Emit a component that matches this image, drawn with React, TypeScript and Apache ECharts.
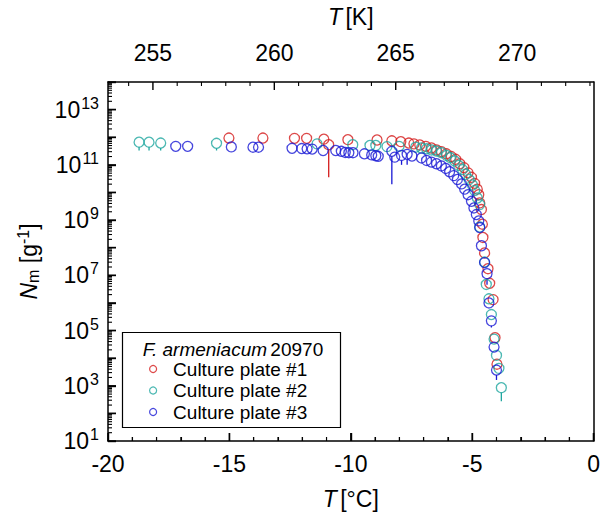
import React, { useEffect, useRef } from "react";
import * as echarts from "echarts";

// ---- data (T in °C, values as log10 of N_m [g^-1]) ----
const plate1T = [-15.02, -13.62, -12.32, -11.82, -11.11, -10.91, -10.12, -8.92, -8.31, -7.94, -7.61, -7.4, -7.16, -6.91, -6.68, -6.47, -6.27, -6.06, -5.86, -5.68, -5.51, -5.34, -5.17, -5.03, -4.9, -4.79, -4.73, -4.69, -4.62, -4.58, -4.56, -4.49, -4.35, -4.28, -4.14, -4.06, -3.98];
const plate1LogN = [11.97, 11.97, 11.96, 11.96, 11.93, 11.73, 11.91, 11.9, 11.87, 11.84, 11.79, 11.76, 11.72, 11.67, 11.61, 11.54, 11.48, 11.4, 11.3, 11.2, 11.04, 10.9, 10.71, 10.55, 10.33, 10.12, 9.92, 9.62, 9.38, 8.85, 8.37, 7.81, 7.24, 6.71, 6.12, 4.74, 3.78];

const plate2T = [-18.72, -18.31, -17.83, -15.53, -11.39, -9.92, -9.21, -8.97, -8.51, -8.01, -7.33, -7.09, -6.88, -6.68, -6.47, -6.27, -6.06, -5.9, -5.72, -5.56, -5.4, -5.27, -5.13, -4.99, -4.9, -4.79, -4.69, -4.69, -4.49, -4.42, -4.31, -4.21, -4.1, -4.0, -3.9, -3.8];
const plate2LogN = [11.82, 11.82, 11.79, 11.78, 11.76, 11.73, 11.7, 11.7, 11.66, 11.67, 11.64, 11.61, 11.58, 11.54, 11.5, 11.44, 11.34, 11.26, 11.14, 10.98, 10.83, 10.66, 10.47, 10.27, 10.07, 9.8, 9.56, 8.75, 7.48, 6.67, 6.15, 5.58, 4.69, 4.1, 3.63, 2.93];

const plate3T = [-17.21, -16.72, -14.92, -14.03, -13.8, -12.42, -12.02, -11.8, -11.59, -11.14, -10.62, -10.39, -10.23, -10.08, -9.91, -9.44, -9.14, -8.97, -8.87, -8.31, -8.19, -7.91, -7.68, -7.48, -7.09, -6.88, -6.68, -6.47, -6.27, -6.09, -5.93, -5.76, -5.61, -5.44, -5.31, -5.17, -5.03, -4.93, -4.83, -4.73, -4.69, -4.62, -4.49, -4.39, -4.31, -4.21, -4.1, -4.0];
const plate3LogN = [11.67, 11.67, 11.65, 11.64, 11.64, 11.6, 11.59, 11.58, 11.57, 11.52, 11.52, 11.49, 11.45, 11.44, 11.44, 11.4, 11.36, 11.33, 11.31, 11.49, 11.28, 11.34, 11.38, 11.32, 11.25, 11.16, 11.1, 11.04, 10.96, 10.87, 10.75, 10.61, 10.47, 10.31, 10.12, 9.92, 9.68, 9.44, 9.2, 8.97, 8.73, 8.07, 7.46, 7.06, 6.0, 5.35, 4.4, 3.57];

// error bars: [T, log10 N, log10 lower bound]
const plate1Err = [[-10.91, 11.73, 10.55]];
const plate2Err = [[-18.72, 11.82, 11.52], [-18.31, 11.82, 11.52], [-17.83, 11.79, 11.52], [-15.53, 11.78, 11.52], [-3.8, 2.93, 2.44]];
const plate3Err = [[-8.31, 11.49, 10.3], [-7.91, 11.34, 11.0], [-7.68, 11.38, 11.0], [-4.39, 7.06, 6.66], [-4.21, 5.35, 5.11], [-4.0, 3.57, 3.21]];

const seriesNames = ["Culture plate #1", "Culture plate #2", "Culture plate #3"];
const legendTitle = "F. armeniacum";
const legendStrain = "20970";

// axes
const tempMin = -20;
const tempMax = 0;
const kelvinOffset = 273.15;
const bottomMajorC = [-20, -15, -10, -5, 0];
const bottomMinorC = [-19, -18, -17, -16, -14, -13, -12, -11, -9, -8, -7, -6, -4, -3, -2, -1];
const topMajorK = [255, 260, 265, 270];
const topMinorK = [254, 256, 257, 258, 259, 261, 262, 263, 264, 266, 267, 268, 269, 271, 272, 273];
const logMin = 1;
const logMax = 14;
const logMajorTicks: number[] = [];
const logMinorTicks: number[] = [];
for (let d = logMin; d <= logMax; d++) logMajorTicks.push(d);
for (let d = logMin; d < logMax; d++) {
  for (let k = 2; k <= 9; k++) logMinorTicks.push(d + Math.log10(k));
}

const RED = "#d41c1c";
const CYAN = "#1ea69f";
const BLUE = "#1818d4";
const FONT = "Liberation Sans, Arial, Helvetica, sans-serif";
const FS = 23;
const FS_SUP = 16;

const R = 5;
const MAJOR_LEN = 8;
const MINOR_LEN = 4;

function errSeries(data: number[][], color: string) {
  return {
    type: "custom",
    xAxisIndex: 0,
    yAxisIndex: 0,
    z: 1,
    silent: true,
    data,
    renderItem: (params: any, api: any) => {
      const t = api.value(0);
      const c = api.coord([t, api.value(1)]);
      const lo = api.coord([t, api.value(2)]);
      const y1 = c[1] + R;
      if (lo[1] <= y1) return null;
      return {
        type: "line",
        shape: { x1: c[0], y1, x2: c[0], y2: lo[1] },
        style: { stroke: color, lineWidth: 1.3 },
      };
    },
  };
}

// One custom item per axis side; each item draws that side's ticks as thin filled rects.
// Tick positions come from api.coord (the axes' scales); the edge comes from the grid rect.
const midT = (tempMin + tempMax) / 2;
const midLog = (logMin + logMax) / 2;
function ticksSeries(xAxisIndex: number, side: "bottom" | "top" | "left", major: number[], minor: number[]) {
  return {
    type: "custom",
    xAxisIndex,
    yAxisIndex: 0,
    z: 6,
    silent: true,
    clip: false,
    data: [[side === "left" ? midT : midT + (xAxisIndex === 1 ? kelvinOffset : 0), midLog]],
    renderItem: (params: any, api: any) => {
      const cs = params.coordSys;
      const children: any[] = [];
      const make = (v: number, len: number, w: number) => {
        if (side === "left") {
          const y = api.coord([midT, v])[1];
          children.push({ type: "rect", shape: { x: cs.x, y: y - w / 2, width: len, height: w }, style: { fill: "#000" } });
        } else {
          const x = api.coord([v, midLog])[0];
          const y0 = side === "top" ? cs.y : cs.y + cs.height - len;
          children.push({ type: "rect", shape: { x: x - w / 2, y: y0, width: w, height: len }, style: { fill: "#000" } });
        }
      };
      major.forEach((v) => make(v, MAJOR_LEN, 1.4));
      minor.forEach((v) => make(v, MINOR_LEN, 1.1));
      return { type: "group", children };
    },
  };
}

function scatter(name: string, t: number[], v: number[], color: string) {
  return {
    type: "scatter",
    name,
    xAxisIndex: 0,
    yAxisIndex: 0,
    z: 2,
    symbol: "circle",
    symbolSize: 2 * R,
    itemStyle: { color: "transparent", borderColor: color, borderWidth: 1.3 },
    data: t.map((x, i) => [x, v[i]]),
  };
}

export default function App() {
  const ref = useRef<HTMLDivElement>(null);
  useEffect(() => {
    document.body.style.margin = "0";
    const chart = echarts.init(ref.current!, undefined, { renderer: "svg" });
    const axisLineStyle = { color: "#000", width: 1.5 };
    const majorTick = { show: true, inside: true, length: MAJOR_LEN, lineStyle: { color: "#000", width: 1.4 } };
    const option: any = {
      animation: false,
      backgroundColor: "#fff",
      textStyle: { fontFamily: FONT },
      grid: { left: 108, right: 9, top: 77, bottom: 73, show: false },
      xAxis: [
        {
          type: "value",
          position: "bottom",
          min: tempMin,
          max: tempMax,
          interval: 5,
          axisLine: { show: true, onZero: false, lineStyle: axisLineStyle },
          axisTick: majorTick,
          minorTick: { show: true, splitNumber: 5, length: MINOR_LEN, lineStyle: { color: "#000", width: 1.1 } },
          splitLine: { show: false },
          minorSplitLine: { show: false },
          axisLabel: { show: true, fontSize: FS, color: "#000", margin: 11, fontFamily: FONT },
          name: "{i|T} {r|[°C]}",
          nameLocation: "middle",
          nameGap: 46,
          nameTextStyle: {
            rich: {
              i: { fontSize: FS, fontStyle: "italic", fontFamily: FONT, color: "#000" },
              r: { fontSize: FS, fontFamily: FONT, color: "#000" },
            },
          },
        },
        {
          type: "value",
          position: "top",
          min: tempMin + kelvinOffset,
          max: tempMax + kelvinOffset,
          axisLine: { show: true, onZero: false, lineStyle: axisLineStyle },
          axisTick: { show: false },
          splitLine: { show: false },
          axisLabel: { show: true, fontSize: FS, color: "#000", margin: 18, fontFamily: FONT, customValues: topMajorK },
          name: "{i|T} {r|[K]}",
          nameLocation: "middle",
          nameGap: 54,
          nameTextStyle: {
            rich: {
              i: { fontSize: FS, fontStyle: "italic", fontFamily: FONT, color: "#000" },
              r: { fontSize: FS, fontFamily: FONT, color: "#000" },
            },
          },
        },
      ],
      yAxis: [
        {
          type: "value",
          position: "left",
          min: logMin,
          max: logMax,
          interval: 1,
          axisLine: { show: true, onZero: false, lineStyle: axisLineStyle },
          axisTick: majorTick,
          splitLine: { show: false },
          axisLabel: {
            show: true,
            margin: 9,
            formatter: (v: number) => (Math.round(v) % 2 === 1 ? `{b|10}{s|${Math.round(v)}}` : ""),
            rich: {
              b: { fontSize: FS, fontFamily: FONT, color: "#000" },
              s: { fontSize: FS_SUP, fontFamily: FONT, color: "#000", padding: [0, 0, 13, 1] },
            },
          },
          name: "{i|N}{sub|m}{r| [g}{sup|-1}{r|]}",
          nameLocation: "middle",
          nameRotate: 90,
          nameGap: 66,
          nameTextStyle: {
            rich: {
              i: { fontSize: FS, fontStyle: "italic", fontFamily: FONT, color: "#000" },
              sub: { fontSize: FS_SUP, fontFamily: FONT, color: "#000", padding: [9, 0, 0, 0] },
              r: { fontSize: FS, fontFamily: FONT, color: "#000" },
              sup: { fontSize: FS_SUP, fontFamily: FONT, color: "#000", padding: [0, 0, 11, 0] },
            },
          },
        },
        {
          type: "value",
          position: "right",
          min: logMin,
          max: logMax,
          axisLine: { show: true, onZero: false, lineStyle: axisLineStyle },
          axisTick: { show: false },
          splitLine: { show: false },
          axisLabel: { show: false },
        },
      ],
      legend: {
        z: 10,
        orient: "vertical",
        left: 144,
        top: 354,
        itemWidth: 30,
        itemHeight: 7,
        itemGap: 1.5,
        selectedMode: false,
        textStyle: { fontSize: 19, fontFamily: FONT, color: "#000", lineHeight: 20 },
        data: [
          { name: seriesNames[0], icon: "circle", itemStyle: { color: "transparent", borderColor: RED, borderWidth: 1.2 } },
          { name: seriesNames[1], icon: "circle", itemStyle: { color: "transparent", borderColor: CYAN, borderWidth: 1.2 } },
          { name: seriesNames[2], icon: "circle", itemStyle: { color: "transparent", borderColor: BLUE, borderWidth: 1.2 } },
        ],
      },
      graphic: [
        {
          type: "rect",
          shape: { x: 122.5, y: 332.5, width: 218, height: 95 },
          style: { fill: "#fff", stroke: "#000", lineWidth: 1.2 },
          z: 1,
        },
        {
          type: "text",
          x: 233,
          y: 349,
          z: 11,
          style: {
            text: `{i|${legendTitle}} {r|${legendStrain}}`,
            align: "center",
            verticalAlign: "middle",
            rich: {
              i: { fontSize: 19, fontStyle: "italic", fontFamily: FONT, fill: "#000" },
              r: { fontSize: 19, fontFamily: FONT, fill: "#000" },
            },
          },
        },
      ],
      series: [
        errSeries(plate1Err, RED),
        errSeries(plate2Err, CYAN),
        errSeries(plate3Err, BLUE),
        scatter(seriesNames[0], plate1T, plate1LogN, RED),
        scatter(seriesNames[1], plate2T, plate2LogN, CYAN),
        scatter(seriesNames[2], plate3T, plate3LogN, BLUE),
        ticksSeries(0, "bottom", bottomMajorC, bottomMinorC),
        ticksSeries(1, "top", topMajorK, topMinorK),
        ticksSeries(0, "left", logMajorTicks, logMinorTicks),
      ],
    };
    chart.setOption(option);
    return () => chart.dispose();
  }, []);
  return <div ref={ref} style={{ width: 603, height: 515 }} />;
}
